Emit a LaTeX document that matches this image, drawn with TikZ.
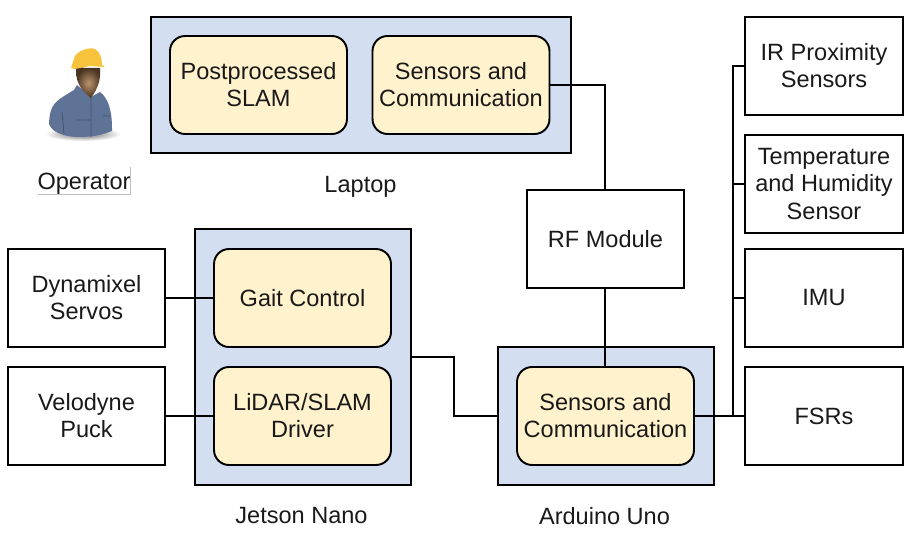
\documentclass[tikz,border=0pt]{standalone}
\usepackage{fontspec}
\setmainfont{Liberation Sans}
\usetikzlibrary{calc}
\definecolor{hostblue}{HTML}{D3DFF1}
\definecolor{softyellow}{HTML}{FFF2CC}
\definecolor{shirt}{HTML}{5F7396}
\definecolor{hat}{HTML}{F7C33C}
\definecolor{facetone}{HTML}{B8946E}
\definecolor{faceedge}{HTML}{4A3320}
\tikzset{
  lbl/.style={font=\fontsize{13.4}{15.4}\selectfont,align=center,text=black!90},
  host/.style={draw,line width=1.1pt,fill=hostblue},
  task/.style={lbl,draw,line width=1.1pt,fill=softyellow,rounded corners=0.3cm,minimum width=3.54cm,minimum height=1.96cm},
  device/.style={lbl,draw,line width=1.1pt,fill=white,minimum width=3.14cm,minimum height=1.96cm},
  wire/.style={line width=1.1pt}
}
\begin{document}
\begin{tikzpicture}[x=0.02cm,y=-0.02cm]
\useasboundingbox (0,0) rectangle (913,550);

% hosts
\node [host,minimum width=8.4cm,minimum height=2.72cm] (laptop) at (361,85) {};
\node [host,minimum width=4.32cm,minimum height=5.12cm] (jetson) at (303,357) {};
\node [host,minimum width=4.32cm,minimum height=2.76cm] (arduino) at (606,416) {};

\node [lbl] (laptoplbl) at (360.5,187) {Laptop};
\node [lbl] (jetsonlbl) at (301.5,516) {Jetson Nano};
\node [lbl] (arduinolbl) at (604.5,516) {Arduino Uno};

% tasks
\node [task] (slam) at (258.5,85) {Postprocessed\\SLAM};
\node [task] (lapcomm) at (461,85) {Sensors and\\Communication};
\node [task] (gait) at (302.5,298) {Gait Control};
\node [task] (lidar) at (302.5,416) {LiDAR/SLAM\\Driver};
\node [task] (ardcomm) at (605.5,416) {Sensors and\\Communication};

% devices
\node [device] (rf) at (605.5,239) {RF Module};
\node [device] (servos) at (86.5,298) {Dynamixel\\Servos};
\node [device] (puck) at (86.5,416) {Velodyne\\Puck};
\node [device,minimum width=3.16cm] (ir) at (824,66) {IR Proximity\\Sensors};
\node [device,minimum width=3.16cm] (temp) at (824,184) {Temperature\\and Humidity\\Sensor};
\node [device,minimum width=3.16cm] (imu) at (824,298) {IMU};
\node [device,minimum width=3.16cm] (fsr) at (824,416) {FSRs};

% wires
\coordinate (bustop) at (733,66);
\coordinate (busend) at (733,416);
\coordinate (rfwire) at ($(rf.north)+(-0.5,0)$);
\draw [wire] (lapcomm.east) -| (rfwire);
\draw [wire] (rf.south -| rfwire) -- (ardcomm.north -| rfwire);
\draw [wire] (servos.east) -- (gait.west);
\draw [wire] (puck.east) -- (lidar.west);
\draw [wire] (jetson.east) -- ++(42,0) |- (arduino.west);
\draw [wire] (ardcomm.east) -- (fsr.west);
\draw [wire] (busend) -- (bustop) -- (ir.west);
\draw [wire] (temp.west) -- (temp.west -| bustop);
\draw [wire] (imu.west) -- (imu.west -| bustop);

% operator
\shade [inner color=black!60,outer color=white] (83,134) ellipse [x radius=38,y radius=7];
\fill [shirt] (49,124) .. controls (50,104) and (54,102) .. (74,90) -- (77,85)
  -- (91,97) -- (100,92) .. controls (108,98) and (112,110) .. (112,128)
  -- (112,131) .. controls (100,136) and (90,137) .. (76,137)
  .. controls (62,136) and (52,132) .. (49,124) -- cycle;
\draw [shirt!70!black,line width=0.4pt] (91,97) -- (91,137) (62,112) -- (64,134)
  (76,120) -- (90,120) (103,116) -- (110,116);
\fill [black!80!brown] (76,66) -- (80,78) -- (84,68) -- cycle;
\shade [inner color=facetone,outer color=faceedge] (76,68) .. controls (76,80) and (78,88) .. (91,98)
  .. controls (98,88) and (101,80) .. (100,68) -- cycle;
\fill [hat] (71,68) -- (75,56) .. controls (79,50) and (90,47) .. (95,49)
  .. controls (100,52) and (102,58) .. (102,65) -- (105,67) -- (90,66) -- (75,69) -- cycle;
\node [lbl,inner sep=0pt] (operator) at (84,184) {Operator};
\coordinate (opleft) at (38,194);
\coordinate (opcorner) at (130.5,194);
\coordinate (optop) at (130.5,167);
\draw [black!25,line width=0.5pt] (opleft) -- (opcorner) -- (optop);

\end{tikzpicture}
\end{document}
